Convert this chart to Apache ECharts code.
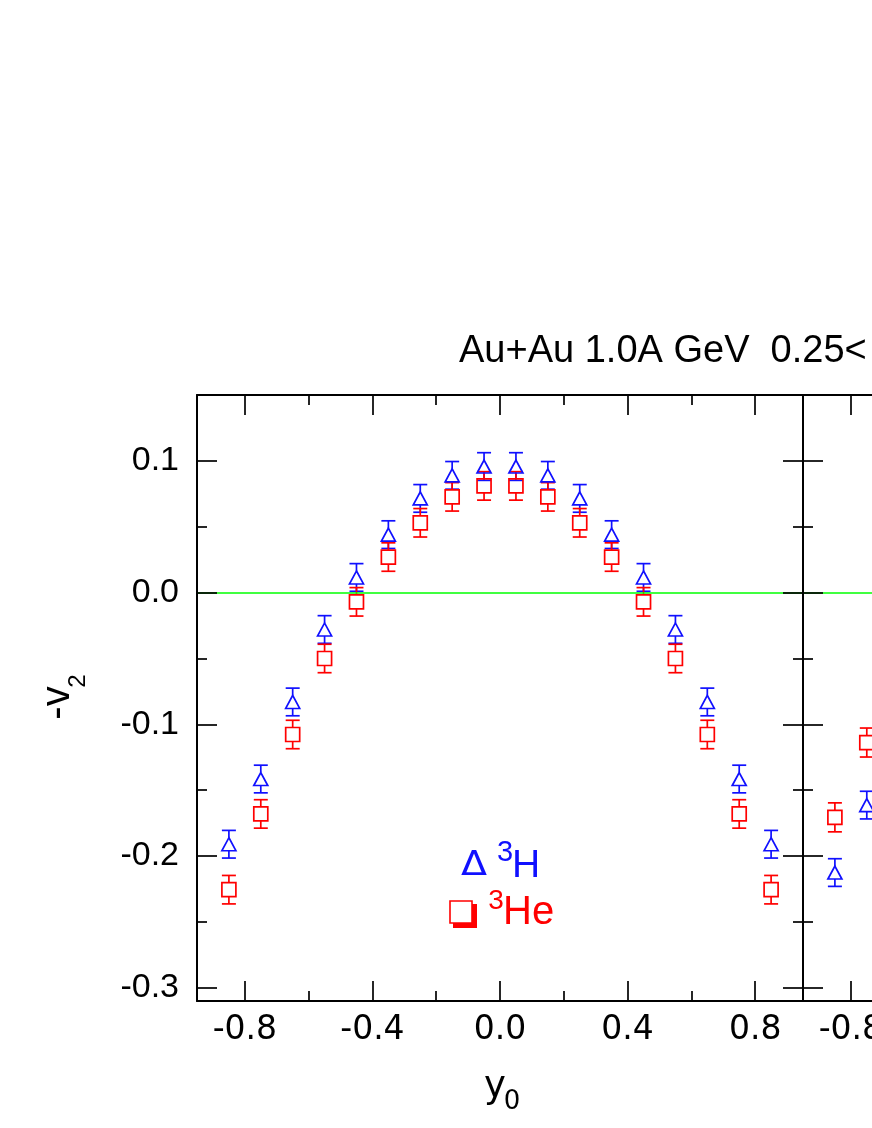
<!DOCTYPE html>
<html><head><meta charset="utf-8">
<script src="https://cdn.jsdelivr.net/npm/echarts@6/dist/echarts.min.js"></script>
<style>html,body{margin:0;padding:0;background:#fff}#c{width:872px;height:1128px}</style>
</head><body><div id="c"></div>
<script>
// ---- data ----
const rapidity = [-0.85,-0.75,-0.65,-0.55,-0.45,-0.35,-0.25,-0.15,-0.05,0.05,0.15,0.25,0.35,0.45,0.55,0.65,0.75,0.85];
const h3V2  = [-0.191,-0.1415,-0.083,-0.028,0.0115,0.044,0.0715,0.089,0.0957,0.0957,0.089,0.0715,0.044,0.0115,-0.028,-0.083,-0.1415,-0.191];
const h3Err = [0.0105,0.0105,0.0105,0.0105,0.0105,0.0105,0.0105,0.0105,0.0105,0.0105,0.0105,0.0105,0.0105,0.0105,0.0105,0.0105,0.0105,0.0105];
const he3V2  = [-0.2255,-0.168,-0.1077,-0.050,-0.007,0.027,0.053,0.0727,0.081,0.081,0.0727,0.053,0.027,-0.007,-0.050,-0.1077,-0.168,-0.2255];
const he3Err = [0.0108,0.0108,0.0108,0.0108,0.0108,0.0108,0.0108,0.0108,0.0108,0.0108,0.0108,0.0108,0.0108,0.0108,0.0108,0.0108,0.0108,0.0108];
// second (partly visible) panel
const rapidity2 = [-0.85,-0.75];
const h3V2b  = [-0.2125,-0.1613];
const h3ErrB = [0.0105,0.0105];
const he3V2b  = [-0.1706,-0.1138];
const he3ErrB = [0.011,0.011];
// ticks
const xMajorTicks = [-0.8,-0.4,0,0.4,0.8];
const xMinorTicks = [-0.6,-0.2,0.2,0.6];
const yMajorTicks = [-0.3,-0.2,-0.1,0,0.1];
const yMinorTicks = [-0.25,-0.15,-0.05,0.05];
const titleText = 'Au+Au 1.0A GeV  0.25<';

const BLUE = '#1010ff', RED = '#ff0000', GREEN = '#00ff00', INK = '#000';
const XMIN = -0.95, XMAX = 0.95, YMIN = -0.31, YMAX = 0.15;

function rows(xs, vs, es) { return xs.map((x, i) => [x, vs[i], vs[i] - es[i], vs[i] + es[i]]); }

const tickStyle = {color: INK, width: 1.7};
function xAxis(grid, pos, vals, len, labels, lineShow) {
  return {
    type: 'value', gridIndex: grid, position: pos, min: XMIN, max: XMAX, z: 10,
    splitLine: {show: false},
    axisLine: {show: lineShow, onZero: false, lineStyle: {color: INK, width: 2}},
    axisTick: {show: true, inside: true, length: len, customValues: vals, lineStyle: tickStyle},
    axisLabel: {show: labels, customValues: vals, margin: 13, fontFamily: 'DejaVu Sans', fontSize: 33, color: INK,
      hideOverlap: false, formatter: v => v.toFixed(1)}
  };
}
function yAxis(grid, pos, vals, len, labels, lineShow) {
  return {
    type: 'value', gridIndex: grid, position: pos, min: YMIN, max: YMAX, z: 10,
    splitLine: {show: false},
    axisLine: {show: lineShow, onZero: false, lineStyle: {color: INK, width: 2}},
    axisTick: {show: true, inside: true, length: len, customValues: vals, lineStyle: tickStyle},
    axisLabel: {show: labels, customValues: vals, margin: 18, fontFamily: 'Liberation Sans', fontSize: 34, color: INK,
      formatter: v => v.toFixed(1)}
  };
}

function errSeries(data, xi, yi, color, gap) {
  return {
    type: 'custom', xAxisIndex: xi, yAxisIndex: yi, silent: true, z: 3,
    data: data, encode: {x: 0, y: 1},
    renderItem: function (params, api) {
      const x = api.value(0), y = api.value(1), lo = api.value(2), hi = api.value(3);
      const c = api.coord([x, y]), pH = api.coord([x, hi]), pL = api.coord([x, lo]);
      const hw = 7;
      const st = {stroke: color, lineWidth: 1.7, fill: null};
      return {type: 'group', children: [
        {type: 'line', shape: {x1: pH[0] - hw, y1: pH[1], x2: pH[0] + hw, y2: pH[1]}, style: st},
        {type: 'line', shape: {x1: pL[0] - hw, y1: pL[1], x2: pL[0] + hw, y2: pL[1]}, style: st},
        {type: 'line', shape: {x1: c[0], y1: pH[1], x2: c[0], y2: Math.max(pH[1], c[1] - gap)}, style: st},
        {type: 'line', shape: {x1: c[0], y1: Math.min(pL[1], c[1] + gap), x2: c[0], y2: pL[1]}, style: st}
      ]};
    }
  };
}
function markSeries(data, xi, yi, color, symbol, size, zeroLine) {
  const s = {
    type: 'scatter', xAxisIndex: xi, yAxisIndex: yi, silent: true, z: 4,
    data: data.map(r => [r[0], r[1]]),
    symbol: symbol, symbolSize: size,
    itemStyle: {color: 'rgba(0,0,0,0)', borderColor: color, borderWidth: 1.7, opacity: 1}
  };
  if (zeroLine) {
    s.markLine = {silent: true, symbol: 'none', animation: false, label: {show: false},
      lineStyle: {color: GREEN, width: 1.6, type: 'solid'}, data: [{yAxis: 0}]};
  }
  return s;
}

const H3L = rows(rapidity, h3V2, h3Err), HEL = rows(rapidity, he3V2, he3Err);
const H3R = rows(rapidity2, h3V2b, h3ErrB), HER = rows(rapidity2, he3V2b, he3ErrB);

const option = {
  animation: false,
  backgroundColor: '#fff',
  grid: [
    {left: 197, top: 395, width: 606, height: 606, outerBoundsMode: 'none', containLabel: false},
    {left: 803, top: 395, width: 606, height: 606, outerBoundsMode: 'none', containLabel: false}
  ],
  xAxis: [
    xAxis(0, 'bottom', xMajorTicks, 20, true, true),
    xAxis(0, 'bottom', xMinorTicks, 10, false, false),
    xAxis(0, 'top', xMajorTicks, 20, false, true),
    xAxis(0, 'top', xMinorTicks, 10, false, false),
    xAxis(1, 'bottom', xMajorTicks, 20, true, true),
    xAxis(1, 'bottom', xMinorTicks, 10, false, false),
    xAxis(1, 'top', xMajorTicks, 20, false, true),
    xAxis(1, 'top', xMinorTicks, 10, false, false)
  ],
  yAxis: [
    yAxis(0, 'left', yMajorTicks, 20, true, true),
    yAxis(0, 'left', yMinorTicks, 10, false, false),
    yAxis(0, 'right', yMajorTicks, 20, false, true),
    yAxis(0, 'right', yMinorTicks, 10, false, false),
    yAxis(1, 'left', yMajorTicks, 20, false, true),
    yAxis(1, 'left', yMinorTicks, 10, false, false)
  ],
  series: [
    errSeries(H3L, 0, 0, BLUE, 6.5),
    errSeries(HEL, 0, 0, RED, 7),
    markSeries(H3L, 0, 0, BLUE, 'triangle', [14, 13], true),
    markSeries(HEL, 0, 0, RED, 'rect', 14, false),
    errSeries(H3R, 4, 4, BLUE, 6.5),
    errSeries(HER, 4, 4, RED, 7),
    markSeries(H3R, 4, 4, BLUE, 'triangle', [14, 13], true),
    markSeries(HER, 4, 4, RED, 'rect', 14, false)
  ],
  graphic: [
    {type: 'text', x: 459, y: 352, style: {text: titleText, font: '38px "Liberation Sans"', fill: INK, align: 'left', verticalAlign: 'middle'}},
    // x axis title y0
    {type: 'text', x: 495, y: 1087, style: {text: 'y', font: '37px "DejaVu Sans"', fill: INK, align: 'center', verticalAlign: 'middle'}},
    {type: 'text', x: 512, y: 1102, style: {text: '0', font: '26px "DejaVu Sans"', fill: INK, align: 'center', verticalAlign: 'middle'}},
    // y axis title -v2
    {type: 'text', x: 58, y: 703, rotation: Math.PI / 2, style: {text: '-v', font: '40px "Liberation Sans"', fill: INK, align: 'center', verticalAlign: 'middle'}},
    {type: 'text', x: 78, y: 681, rotation: Math.PI / 2, style: {text: '2', font: '24px "Liberation Sans"', fill: INK, align: 'center', verticalAlign: 'middle'}},
    // legend
    {type: 'text', x: 474, y: 866, scaleX: 1.12, style: {text: 'Δ', font: '34px "DejaVu Sans"', fill: BLUE, align: 'center', verticalAlign: 'middle'}},
    {type: 'text', x: 505, y: 853, style: {text: '3', font: '29px "Liberation Sans"', fill: BLUE, align: 'center', verticalAlign: 'middle'}},
    {type: 'text', x: 512, y: 866, style: {text: 'H', font: '39px "Liberation Sans"', fill: BLUE, align: 'left', verticalAlign: 'middle'}},
    {type: 'rect', shape: {x: 453, y: 904, width: 24, height: 24}, style: {fill: RED}},
    {type: 'rect', shape: {x: 450, y: 901, width: 22, height: 22}, style: {fill: '#fff', stroke: RED, lineWidth: 1.6}},
    {type: 'text', x: 496, y: 901, style: {text: '3', font: '28px "Liberation Sans"', fill: RED, align: 'center', verticalAlign: 'middle'}},
    {type: 'text', x: 503, y: 913, style: {text: 'He', font: '40px "Liberation Sans"', fill: RED, align: 'left', verticalAlign: 'middle'}}
  ]
};
const chart = echarts.init(document.getElementById('c'), null, {renderer: 'canvas'});
chart.setOption(option);
</script>
</body></html>
